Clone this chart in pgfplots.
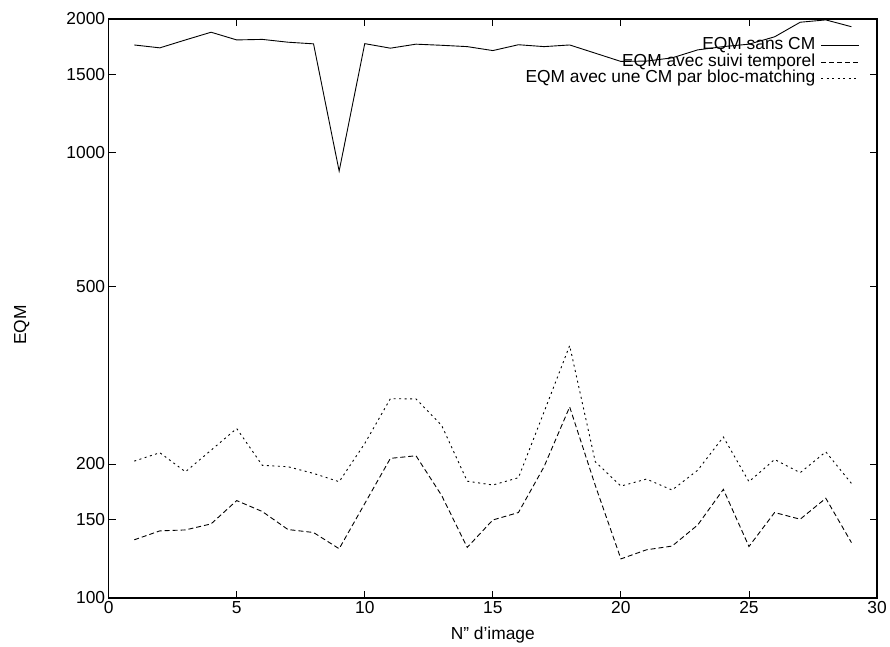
\documentclass[border=0pt]{standalone}
\usepackage{fontspec}
\setmainfont{Liberation Sans}
\usepackage{pgfplots}
\pgfplotsset{compat=1.18}
\usepackage{pgfplotstable}

\pgfplotstableread{
x y
1 1748
2 1722
3 1794
4 1867
5 1794
6 1799
7 1773
8 1758
9 910
10 1760
11 1719
12 1755
13 1745
14 1733
15 1698
16 1750
17 1733
18 1748
19 1675
20 1605
21 1608
22 1635
23 1704
24 1733
25 1755
26 1823
27 1966
28 1990
29 1921
}\sanscm

\pgfplotstableread{
x y
1 135.1
2 141.5
3 142.2
4 146.7
5 165.5
6 156.4
7 142.5
8 140.3
9 129.0
10 163
11 205.9
12 208.7
13 170
14 129.9
15 149.7
16 155.6
17 197.2
18 268.7
19 179
20 122.4
21 128.3
22 130.8
23 145.9
24 175.4
25 130.5
26 155.6
27 150.3
28 167.5
29 133.2
}\suivi

\pgfplotstableread{
x y
1 203
2 212
3 192.1
4 214.8
5 240.3
6 198.6
7 197.2
8 190.5
9 182.5
10 222.4
11 280.4
12 280
13 244.3
14 183
15 179.4
16 186.3
17 261.8
18 369.1
19 202.3
20 178.4
21 185
22 174.8
23 193.7
24 230
25 182.5
26 204.7
27 191.2
28 213
29 180.9
}\bloc

\begin{document}
\begin{tikzpicture}
\begin{axis}[
  scale only axis,
  width=771bp, height=581bp,
  xmin=0, xmax=30, ymin=100, ymax=2000,
  ymode=log,
  xtick={0,5,10,15,20,25,30},
  ytick={100,150,200,500,1000,1500,2000},
  yticklabels={100,150,200,500,1000,1500,2000},
  minor ytick={},
  log basis y=10,
  tick align=inside,
  major tick length=7bp,
  minor tick length=0bp,
  axis line style={line width=1.3bp},
  every tick/.style={black, line width=0.8bp},
  font=\fontsize{17.5}{20}\selectfont,
  tick label style={font=\fontsize{17.5}{20}\selectfont},
  /pgf/number format/assume math mode=true,
  xlabel={N" d’image},
  ylabel={EQM},
  every axis x label/.style={at={(axis description cs:0.5,-0.064)}, anchor=center},
  every axis y label/.style={at={(axis description cs:-0.113,0.4716)}, rotate=90, anchor=center},
  legend style={draw=none, fill=none, at={(axis description cs:0.9775,0.968)}, anchor=north east,
    font=\fontsize{17.5}{20}\selectfont, row sep=0bp, column sep=5bp, inner sep=0pt,
    nodes={inner sep=0.5bp, text height=11.5bp, text depth=4bp}},
  legend cell align=right,
  legend plot pos=right,
  legend image code/.code={\draw[#1] (0bp,0bp) -- (38bp,0bp);},
]
\addplot[black, line width=0.9bp] table {\sanscm};
\addlegendentry{EQM sans CM}
\addplot[black, line width=0.9bp, dash pattern=on 5bp off 3bp] table {\suivi};
\addlegendentry{EQM avec suivi temporel}
\addplot[black, line width=0.9bp, dash pattern=on 2bp off 3.5bp] table {\bloc};
\addlegendentry{EQM avec une CM par bloc-matching}
\end{axis}
\path (-109bp,-44bp) rectangle (781bp,600bp);
\end{tikzpicture}
\end{document}
